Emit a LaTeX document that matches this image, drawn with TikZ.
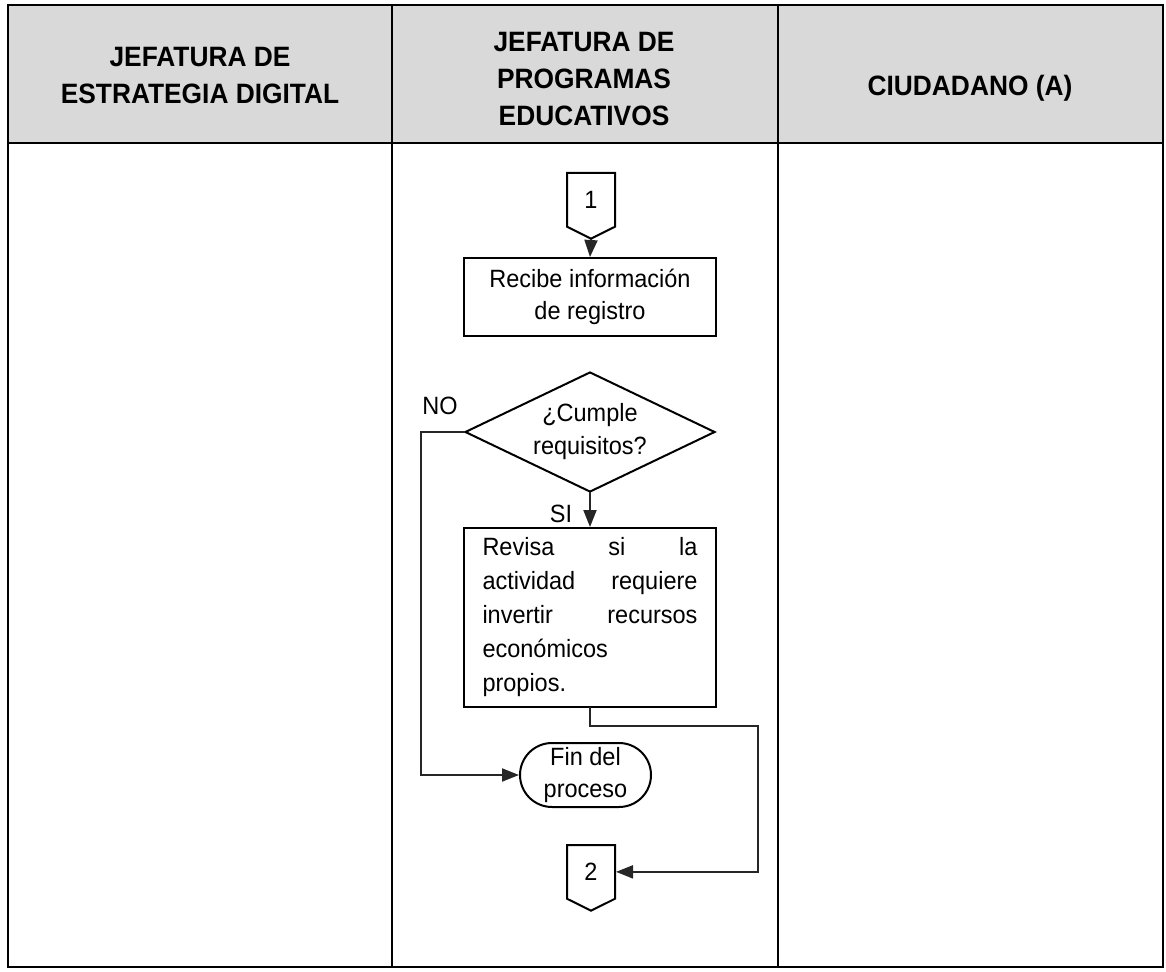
\documentclass[tikz,border=0pt]{standalone}
\usepackage{fontspec}
\setmainfont{Liberation Sans}
\newfontfamily\flowfont[FakeStretch=0.94]{Liberation Sans}
\usetikzlibrary{arrows.meta,shapes.geometric,shapes.misc,shapes.symbols}
\tikzset{lanehead/.style={font=\flowfont\fontsize{14}{18.5}\selectfont\bfseries,align=center,inner sep=0pt},process/.style={rectangle,draw,line width=1pt,font=\flowfont\fontsize{12.5}{16}\selectfont,align=center,minimum width=126pt,minimum height=39pt,inner sep=2pt},decision/.style={diamond,draw,line width=1pt,aspect=2.08,minimum width=125pt,minimum height=60pt,inner sep=0pt,font=\flowfont\fontsize{12.5}{16.5}\selectfont,align=center},terminal/.style={rounded rectangle,draw,line width=1pt,minimum width=67.5pt,minimum height=32pt,inner sep=1pt,font=\flowfont\fontsize{12.5}{16}\selectfont,align=center},offpage/.style={signal,signal to=south,signal pointer angle=127,draw,line width=1pt,minimum width=24pt,minimum height=29pt,inner sep=1pt,font=\flowfont\fontsize{12.5}{14}\selectfont},flow/.style={-{Triangle[length=8.5pt,width=6.5pt]},line width=1pt,draw=black!85},flowlabel/.style={font=\flowfont\fontsize{12.5}{14}\selectfont,inner sep=0pt},lane/.style={line width=1.2pt},every picture/.style={line cap=rect}}

\begin{document}
\begin{tikzpicture}[x=0.5pt,y=-0.5pt]
\useasboundingbox (0,0) rectangle (1166,972);
\fill[black!15] (8,5) rectangle (1163,143);
\draw[lane] (8,5) rectangle (1163,967);
\draw[lane] (8,143) -- (1163,143);
\draw[lane] (392,5) -- (392,967);
\draw[lane] (778,5) -- (778,967);
\node[lanehead] (hEstrategia) at (200,76) {JEFATURA DE\\ESTRATEGIA DIGITAL};
\node[lanehead] (hProgramas) at (584,79) {JEFATURA DE\\PROGRAMAS\\EDUCATIVOS};
\node[lanehead] (hCiudadano) at (970,88) {CIUDADANO (A)};
\node[offpage,anchor=north] (c1) at (591,172) {1};
\node[process] (recibe) at (590,297) {Recibe información\\de registro};
\node[decision] (cumple) at (590,432) {¿Cumple\\requisitos?};
\node[process,minimum height=89.5pt,text width=107.5pt,align=justify,inner sep=0pt,font=\flowfont\fontsize{12.5}{17}\selectfont] (revisa) at (590,617.5) {Revisa\hfill si\hfill la\\actividad\hfill requiere\\invertir\hfill recursos\\económicos\\propios.};
\node[terminal] (fin) at (585.5,775) {Fin del\\proceso};
\node[offpage,anchor=north] (c2) at (591,844) {2};
\coordinate (bend) at (758,726);
\draw[flow] (c1.south) -- (recibe.north);
\draw[flow] (cumple.south) -- (revisa.north);
\draw[flow] (cumple.west) -- ++(-43,0) |- (fin.west);
\draw[flow] (revisa.south) |- (bend) |- (c2.east);
\node[flowlabel] (no) at (440,406) {NO};
\node[flowlabel] (si) at (561,514) {SI};
\end{tikzpicture}
\end{document}
